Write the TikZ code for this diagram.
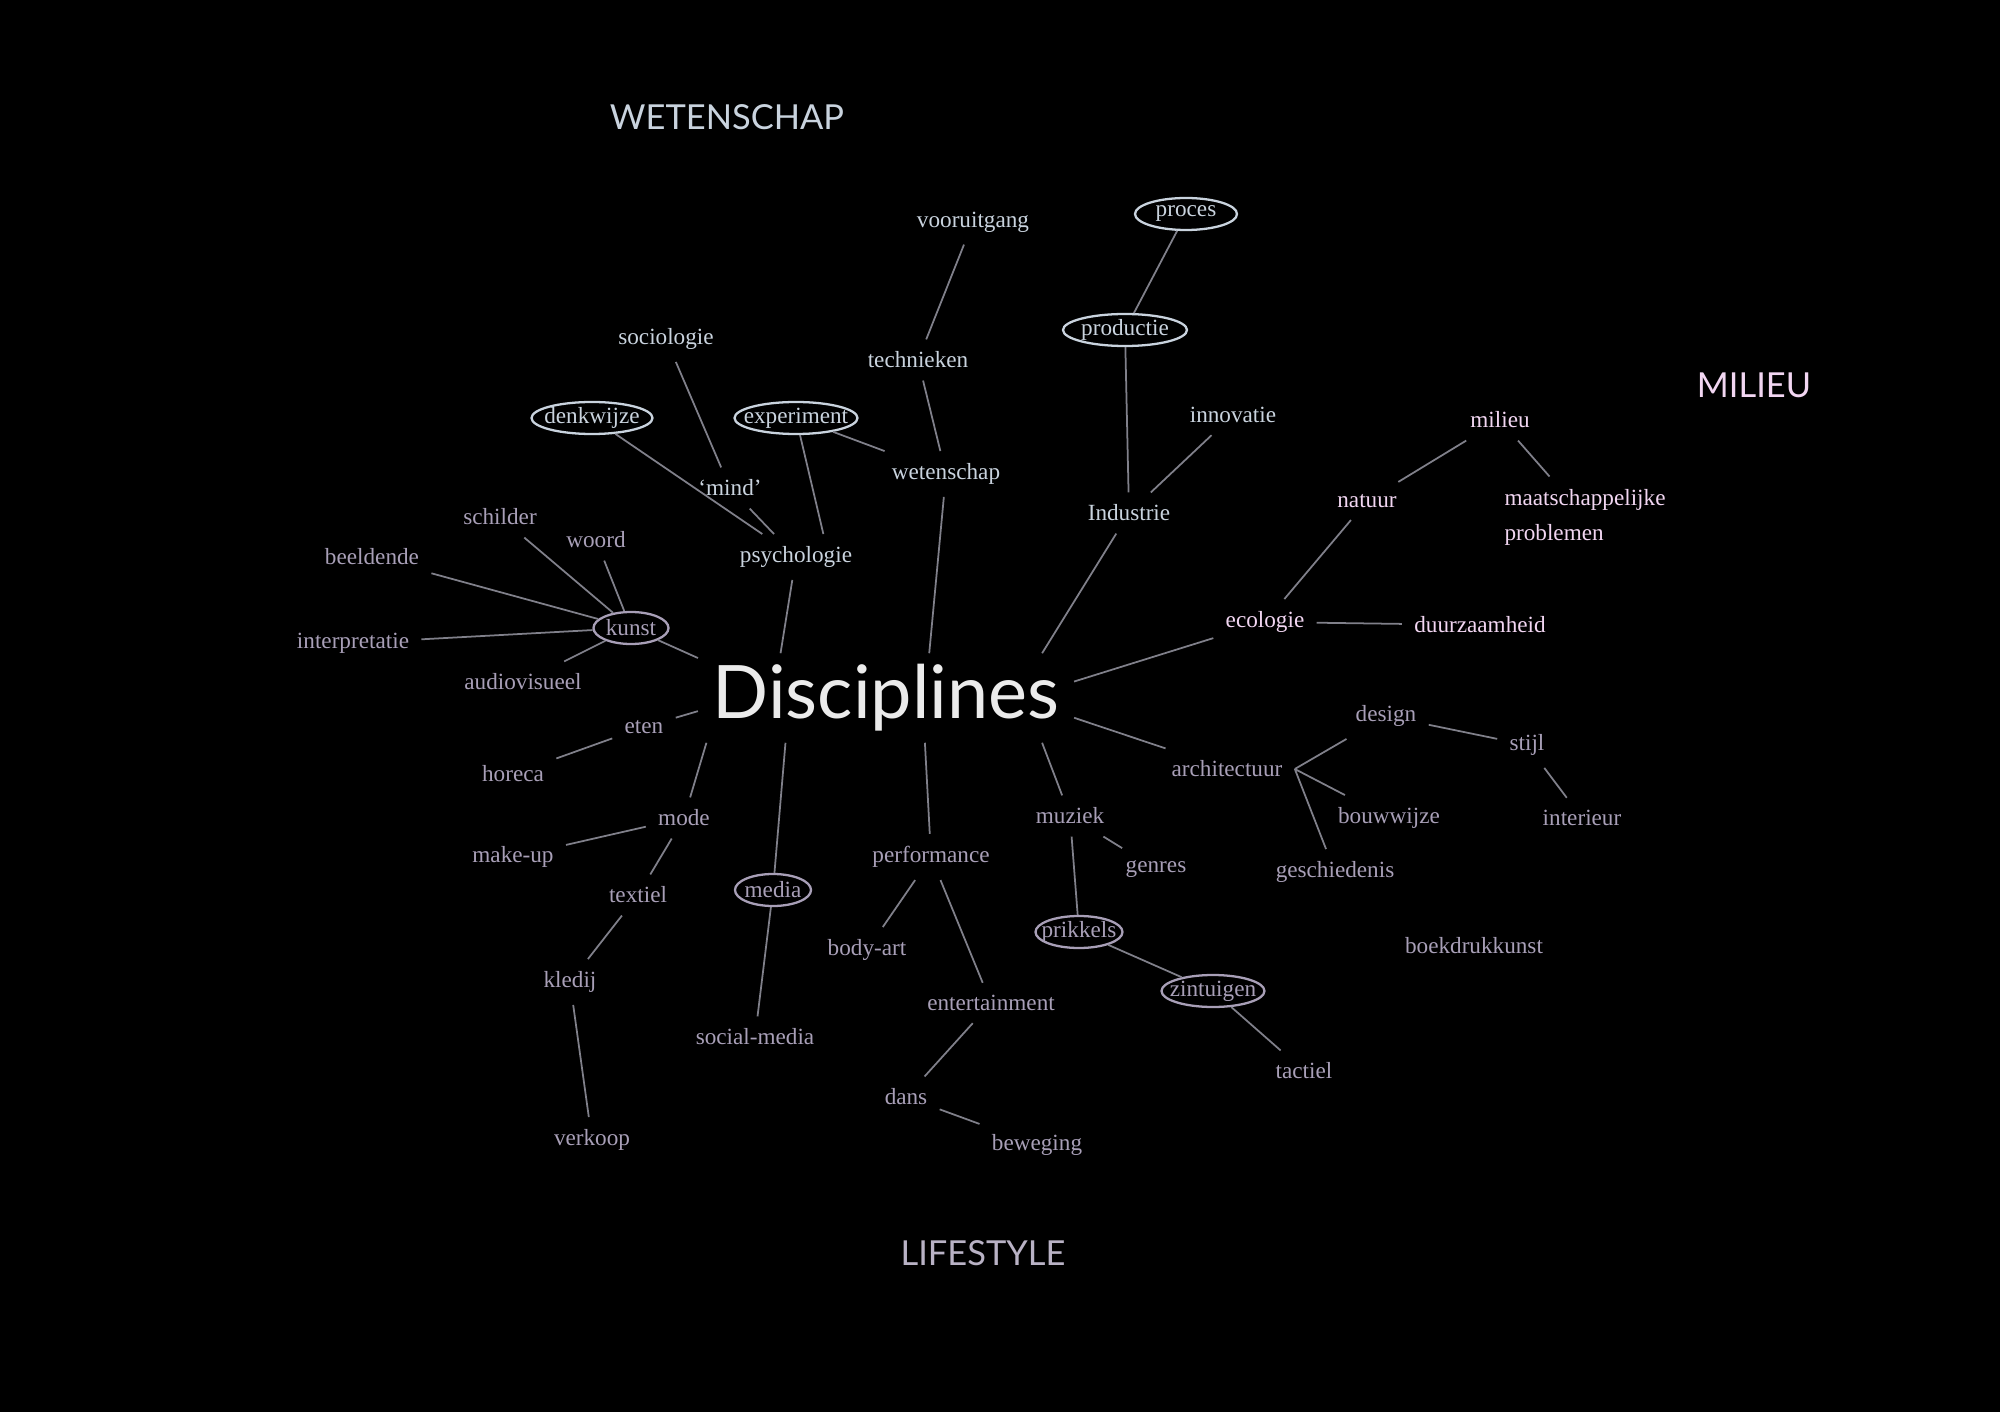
\documentclass[tikz,border=0pt]{standalone}
\usepackage{fontspec}
\setmainfont{Liberation Serif}
\newfontfamily\headfont{Lato}
\usetikzlibrary{shapes.geometric}
\definecolor{sky}{HTML}{C9D3DE}
\definecolor{lilac}{HTML}{A89FB7}
\definecolor{blush}{HTML}{F2D6F2}
\definecolor{wire}{HTML}{80808A}

\begin{document}
\begin{tikzpicture}[
    term/.style={font=\fontsize{6.6}{8}\selectfont},
    ring/.style={term,ellipse,draw,line width=.65pt,inner xsep=-4pt,inner ysep=-2pt,
      minimum height=.32cm,minimum width=#1},
    theme/.style={font=\headfont\fontsize{9.8}{12}\selectfont},
    link/.style={wire,line width=.5pt}]
  \fill[black] (0,0) rectangle (20,-14.12);
  % titles
  \node[theme,text=sky] (tWet) at (7.27,-1.17) {WETENSCHAP};
  \node[theme,text=blush] (tMil) at (17.54,-3.85) {MILIEU};
  \node[theme,text=lilac!80!white] (tLife) at (9.83,-12.53) {LIFESTYLE};
  \node[font=\headfont\fontsize{21}{24}\selectfont,text=white!92!black,
        inner xsep=4pt,inner ysep=3pt] (disc) at (8.86,-6.98) {Disciplines};
  % wetenschap side
  \node[term,sky] (voor) at (9.73,-2.22) {vooruitgang};
  \node[ring=1.02cm,sky] (proc) at (11.86,-2.14) {proces};
  \node[ring=1.24cm,sky] (prod) at (11.25,-3.30) {productie};
  \node[term,sky] (tech) at (9.18,-3.60) {technieken};
  \node[term,sky] (soc) at (6.66,-3.39) {sociologie};
  \node[ring=1.21cm,sky] (denk) at (5.92,-4.18) {denkwijze};
  \node[ring=1.23cm,sky] (exp) at (7.96,-4.18) {experiment};
  \node[term,sky] (inno) at (12.33,-4.15) {innovatie};
  \node[term,sky] (wet) at (9.46,-4.74) {wetenschap};
  \node[term,sky] (mind) at (7.30,-4.88) {`mind'};
  \node[term,sky] (ind) at (11.29,-5.13) {Industrie};
  \node[term,sky] (psy) at (7.96,-5.57) {psychologie};
  % milieu side
  \node[term,blush] (mil) at (15.00,-4.20) {milieu};
  \node[term,blush] (nat) at (13.67,-5.01) {natuur};
  \node[term,blush,align=left] (maat) at (15.85,-5.17)
    {maatschappelijke\\[2pt]problemen};
  \node[term,blush] (eco) at (12.65,-6.22) {ecologie};
  \node[term,blush] (duur) at (14.80,-6.25) {duurzaamheid};
  % kunst
  \node[term,lilac] (schil) at (5.00,-5.17) {schilder};
  \node[term,lilac] (woord) at (5.96,-5.40) {woord};
  \node[term,lilac] (beeld) at (3.72,-5.57) {beeldende};
  \node[ring=.75cm,lilac] (kunst) at (6.31,-6.28) {kunst};
  \node[term,lilac] (inter) at (3.53,-6.43) {interpretatie};
  \node[term,lilac] (audio) at (5.23,-6.82) {audiovisueel};
  % lifestyle side
  \node[term,lilac] (eten) at (6.44,-7.27) {eten};
  \node[term,lilac] (hor) at (5.13,-7.74) {horeca};
  \node[term,lilac] (mode) at (6.84,-8.18) {mode};
  \node[term,lilac] (make) at (5.13,-8.57) {make-up};
  \node[term,lilac] (tex) at (6.38,-8.95) {textiel};
  \node[term,lilac] (kled) at (5.70,-9.82) {kledij};
  \node[term,lilac] (verk) at (5.92,-11.40) {verkoop};
  \node[ring=.76cm,lilac] (media) at (7.73,-8.90) {media};
  \node[term,lilac] (soma) at (7.55,-10.37) {social-media};
  \node[term,lilac] (perf) at (9.31,-8.57) {performance};
  \node[term,lilac] (body) at (8.67,-9.50) {body-art};
  \node[term,lilac] (ent) at (9.91,-10.03) {entertainment};
  \node[term,lilac] (dans) at (9.06,-10.97) {dans};
  \node[term,lilac] (bew) at (10.37,-11.45) {beweging};
  \node[term,lilac] (muz) at (10.70,-8.16) {muziek};
  \node[term,lilac] (gen) at (11.56,-8.69) {genres};
  \node[ring=.87cm,lilac] (prik) at (10.79,-9.32) {prikkels};
  \node[ring=1.03cm,lilac] (zin) at (12.13,-9.91) {zintuigen};
  \node[term,lilac] (tac) at (13.04,-10.71) {tactiel};
  \node[term,lilac] (arch) at (12.27,-7.69) {architectuur};
  \node[term,lilac] (des) at (13.86,-7.16) {design};
  \node[term,lilac] (stijl) at (15.27,-7.45) {stijl};
  \node[term,lilac] (bouw) at (13.89,-8.18) {bouwwijze};
  \node[term,lilac] (intr) at (15.82,-8.18) {interieur};
  \node[term,lilac] (gesch) at (13.35,-8.72) {geschiedenis};
  \node[term,lilac] (boek) at (14.74,-9.46) {boekdrukkunst};
  % connections
  \draw[link] (disc.46) -- (wet) (wet) -- (tech) (tech) -- (voor) (wet) -- (exp);
  \draw[link] (disc.16) -- (ind) (ind) -- (prod) (prod) -- (proc) (ind) -- (inno);
  \draw[link] (disc.157) -- (psy) (psy.40) -- (exp) (psy) -- (mind) (mind) -- (soc)
    (psy) -- (denk);
  \draw[link] (disc.5) -- (eco) (eco) -- (nat) (nat) -- (mil) (mil) -- (maat)
    (eco) -- (duur);
  \draw[link] (disc.168) -- (kunst) (kunst) -- (beeld) (kunst) -- (schil)
    (kunst) -- (woord) (kunst) -- (inter) (kunst) -- (audio);
  \draw[link] (disc.184) -- (eten) (eten) -- (hor);
  \draw[link] (disc.194) -- (mode) (mode) -- (make) (mode) -- (tex) (tex) -- (kled)
    (kled) -- (verk);
  \draw[link] (disc.204) -- (media) (media) -- (soma);
  \draw[link] (disc.311) -- (perf) (perf) -- (body) (perf) -- (ent) (ent) -- (dans)
    (dans) -- (bew);
  \draw[link] (disc.344) -- (muz) (muz) -- (gen) (muz) -- (prik) (prik) -- (zin)
    (zin) -- (tac);
  \draw[link] (disc.354) -- (arch) (arch.east) -- (des) (des) -- (stijl)
    (stijl) -- (intr) (arch.east) -- (bouw) (arch.east) -- (gesch);
\end{tikzpicture}
\end{document}
